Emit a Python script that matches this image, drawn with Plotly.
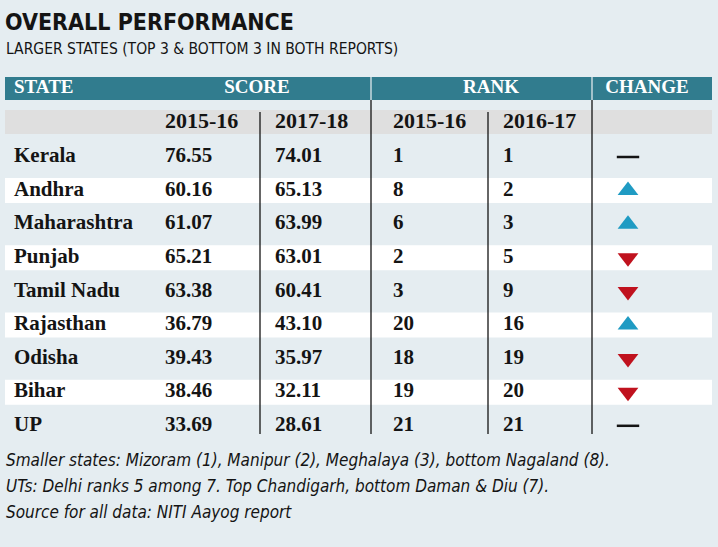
import plotly.graph_objects as go

# data part
title = "OVERALL PERFORMANCE"
subtitle = "LARGER STATES (TOP 3 & BOTTOM 3 IN BOTH REPORTS)"
group_labels = ["STATE", "SCORE", "RANK", "CHANGE"]
year_labels = ["2015-16", "2017-18", "2015-16", "2016-17"]

states = ["Kerala", "Andhra", "Maharashtra", "Punjab", "Tamil Nadu",
          "Rajasthan", "Odisha", "Bihar", "UP"]
score_2015_16 = [76.55, 60.16, 61.07, 65.21, 63.38, 36.79, 39.43, 38.46, 33.69]
score_2017_18 = [74.01, 65.13, 63.99, 63.01, 60.41, 43.10, 35.97, 32.11, 28.61]
rank_2015_16 = [1, 8, 6, 2, 3, 20, 18, 19, 21]
rank_2016_17 = [1, 2, 3, 5, 9, 16, 19, 20, 21]

notes = [
    "Smaller states: Mizoram (1), Manipur (2), Meghalaya (3), bottom Nagaland (8).",
    "UTs: Delhi ranks 5 among 7. Top Chandigarh, bottom Daman & Diu (7).",
    "Source for all data: NITI Aayog report",
]

# style part
W, H = 718, 547
BG = "#e5edf1"
TEAL = "#317c8e"
GRAY = "#dfdfdf"
UP_C = "#1f9bc3"
DOWN_C = "#c0121e"
INK = "#141414"
SERIF = "Liberation Serif, DejaVu Serif, serif"
NARROW = "DejaVu Sans Condensed, Liberation Sans, sans-serif"

left, right = 5, 712
row0, row_h = 157, 33.6
row_y = [row0 + i * row_h for i in range(len(states))]
col_x = [14, 165, 275, 393, 503]
head_x = [14, 257, 491, 647]
change_x = 628
head_y, year_y = 88.5, 122
bottom = 434

fig = go.Figure()

shapes = [
    dict(type="rect", x0=left, x1=right, y0=77, y1=100, fillcolor=TEAL,
         line_width=0, layer="below"),
    dict(type="rect", x0=left, x1=right, y0=110, y1=134, fillcolor=GRAY,
         line_width=0, layer="below"),
]
for i, y in enumerate(row_y):
    if i % 2 == 1:
        shapes.append(dict(type="rect", x0=left, x1=right, y0=y - 12.5, y1=y + 12.5,
                           fillcolor="white", line_width=0, layer="below"))
# column dividers
for x in (260, 488):
    shapes.append(dict(type="line", x0=x, x1=x, y0=112, y1=bottom,
                       line=dict(color=INK, width=1.3)))
for x in (371, 592):
    shapes.append(dict(type="line", x0=x, x1=x, y0=77, y1=100,
                       line=dict(color="#dfe8ec", width=1.3)))
    shapes.append(dict(type="line", x0=x, x1=x, y0=100, y1=bottom,
                       line=dict(color=INK, width=1.3)))

cell_font = dict(family=SERIF, size=21, color=INK, weight="bold")

# header
fig.add_trace(go.Scatter(
    x=head_x[:1], y=[head_y], mode="text", text=group_labels[:1],
    textposition="middle right",
    textfont=dict(family=SERIF, size=19, color="white", weight="bold"),
    hoverinfo="skip"))
fig.add_trace(go.Scatter(
    x=head_x[1:], y=[head_y] * 3, mode="text", text=group_labels[1:],
    textposition="middle center",
    textfont=dict(family=SERIF, size=19, color="white", weight="bold"),
    hoverinfo="skip"))
fig.add_trace(go.Scatter(
    x=col_x[1:], y=[year_y] * 4, mode="text", text=year_labels,
    textposition="middle right",
    textfont=dict(family=SERIF, size=22, color=INK, weight="bold"),
    hoverinfo="skip"))

columns = [
    states,
    [f"{v:.2f}" for v in score_2015_16],
    [f"{v:.2f}" for v in score_2017_18],
    [str(v) for v in rank_2015_16],
    [str(v) for v in rank_2016_17],
]
for x, vals in zip(col_x, columns):
    fig.add_trace(go.Scatter(
        x=[x] * len(vals), y=row_y, mode="text", text=vals,
        textposition="middle right", textfont=cell_font, hoverinfo="skip"))

# change markers: up if rank improved
symbols, colors, lw, sizes = [], [], [], []
for a, b in zip(rank_2015_16, rank_2016_17):
    if b < a:
        symbols.append("triangle-up"); colors.append(UP_C); lw.append(0); sizes.append(18)
    elif b > a:
        symbols.append("triangle-down"); colors.append(DOWN_C); lw.append(0); sizes.append(18)
    else:
        symbols.append("line-ew"); colors.append(INK); lw.append(2.5); sizes.append(16)
fig.add_trace(go.Scatter(
    x=[change_x] * len(states), y=row_y, mode="markers",
    marker=dict(symbol=symbols, color=colors, size=sizes, opacity=1,
                line=dict(color=INK, width=lw)),
    hoverinfo="skip"))

annotations = [
    dict(x=3, y=21.5, text=title, showarrow=False, xanchor="left", yanchor="middle",
         font=dict(family=NARROW, size=23, color=INK, weight="bold")),
    dict(x=4, y=49, text=subtitle, showarrow=False, xanchor="left", yanchor="middle",
         font=dict(family=NARROW, size=15.5, color=INK)),
]
for i, t in enumerate(notes):
    annotations.append(dict(
        x=4, y=460 + i * 26, text=f"<i>{t}</i>", showarrow=False,
        xanchor="left", yanchor="middle",
        font=dict(family=NARROW, size=17, color=INK)))

fig.update_layout(
    width=W, height=H,
    margin=dict(l=0, r=0, t=0, b=0),
    paper_bgcolor=BG, plot_bgcolor=BG,
    showlegend=False,
    shapes=shapes, annotations=annotations,
    xaxis=dict(range=[0, W], visible=False, fixedrange=True),
    yaxis=dict(range=[H, 0], visible=False, fixedrange=True),
)

fig.write_html("out.html",
               config={"displayModeBar": False},
               post_script="document.body.style.margin='0';"
                           "document.body.style.background='" + BG + "';")
